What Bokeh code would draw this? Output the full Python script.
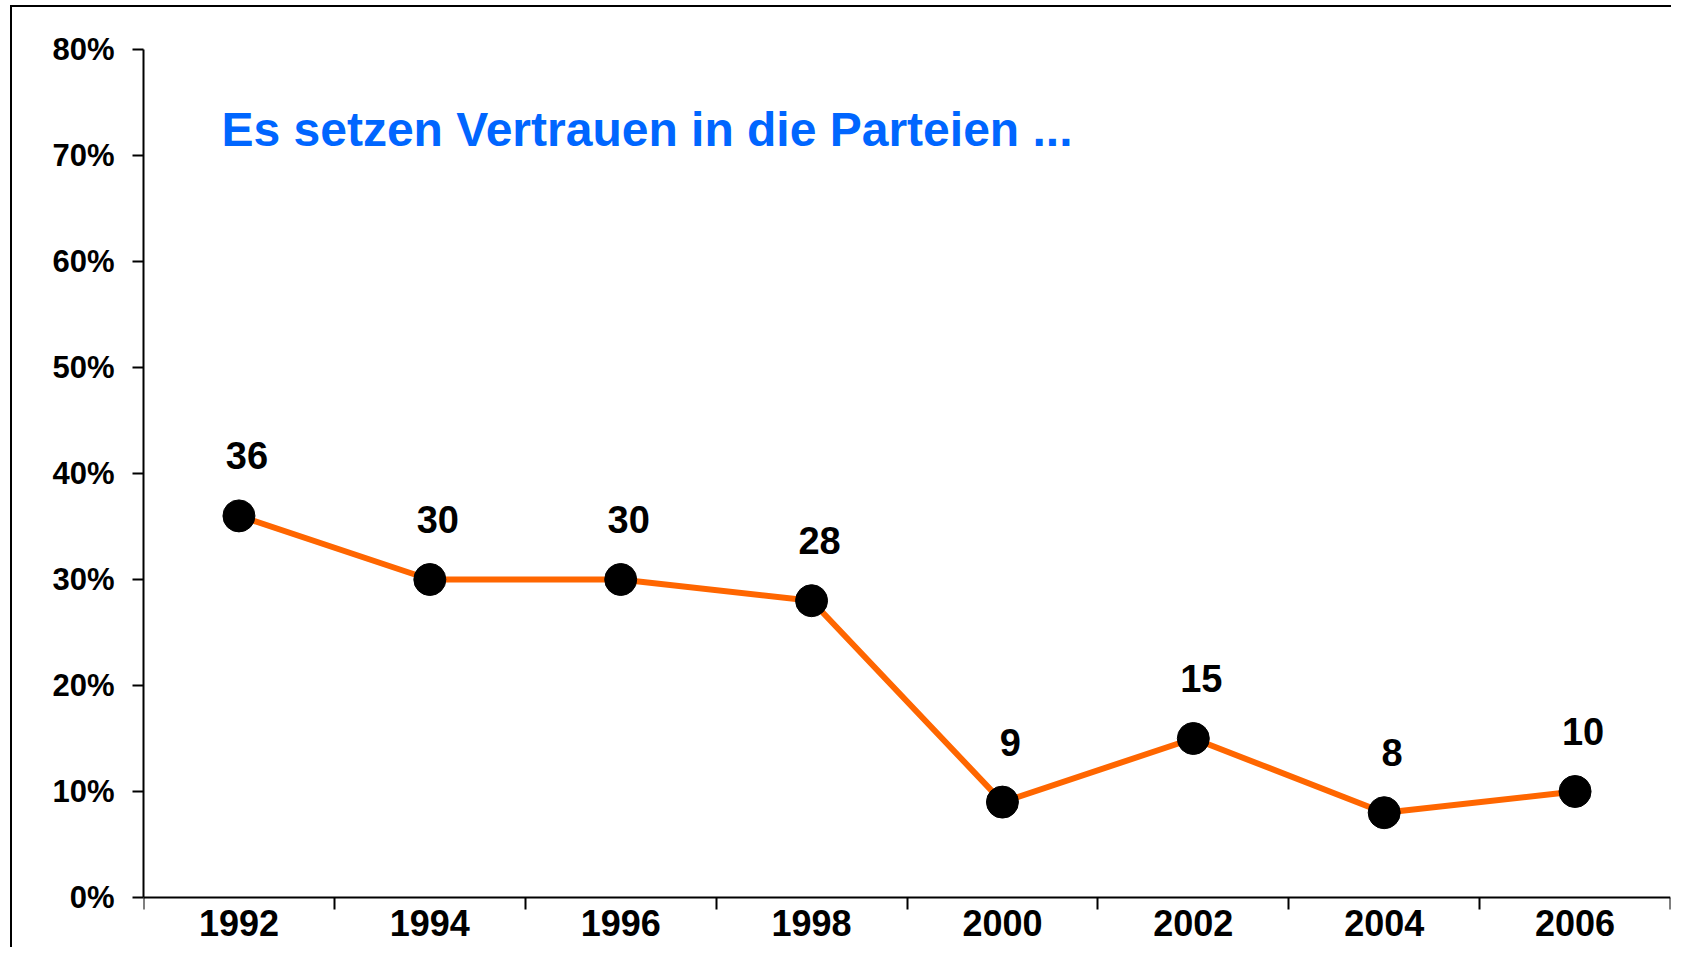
from bokeh.plotting import figure
from bokeh.models import (Range1d, FixedTicker, CustomJSTickFormatter,
                          PrintfTickFormatter, Label, ColumnDataSource)
from bokeh.embed import file_html
from bokeh.resources import INLINE
from bokeh.core.properties import value

# ---- data ----
years = ["1992", "1994", "1996", "1998", "2000", "2002", "2004", "2006"]
trust = [36, 30, 30, 28, 9, 15, 8, 10]
y_ticks = [0, 10, 20, 30, 40, 50, 60, 70, 80]
title_text = "Es setzen Vertrauen in die Parteien ..."

FONT = "Liberation Sans"

# layout constants (pixels)
W, H = 1671, 947
TOP, LEFT, RIGHT = 49, 143, 1
AXIS_Y = 897                      # pixel row of the 0% line
Y_MAX = y_ticks[-1]
ppu = (AXIS_Y - TOP) / Y_MAX      # pixels per percentage point
y_start = -(H - AXIS_Y) / ppu     # frame reaches the canvas bottom

xs = [i + 0.5 for i in range(len(years))]
src = ColumnDataSource(dict(x=xs, y=trust, lab=[str(v) for v in trust], year=years))

p = figure(width=W, height=H,
           x_range=Range1d(0, len(years)), y_range=Range1d(y_start, Y_MAX),
           output_backend="svg", toolbar_location=None,
           min_border_left=LEFT, min_border_right=RIGHT,
           min_border_top=TOP, min_border_bottom=0)
p.styles = {
    "background": ("linear-gradient(#000, #000) 10px 5px / 2px 100% no-repeat, "
                   "linear-gradient(#000, #000) 10px 5px / 100% 2px no-repeat, #fff"),
}
p.grid.visible = False
p.outline_line_color = None
p.background_fill_color = None
p.border_fill_color = None

p.line("x", "y", source=src, line_color="#FF6600", line_width=6)
p.scatter("x", "y", source=src, size=32, fill_color="black", line_color="black")
p.text("x", "y", text="lab", source=src, x_offset=8, y_offset=-60,
       text_font=value(FONT), text_font_style="bold", text_font_size="38px",
       text_align="center", text_baseline="alphabetic", text_color="black")

# x axis: ticks at category boundaries, labels at centres
xa = p.xaxis[0]
xa.fixed_location = 0
xa.ticker = FixedTicker(ticks=xs, minor_ticks=list(range(len(years) + 1)))
xa.formatter = CustomJSTickFormatter(args=dict(labels=years),
                                     code="const i = Math.floor(tick); return (i >= 0 && i < labels.length) ? labels[i] : '';")
xa.axis_line_color = "black"
xa.axis_line_width = 2
xa.major_tick_line_color = None
xa.major_tick_out = 12
xa.major_tick_in = 0
xa.minor_tick_line_color = "black"
xa.minor_tick_line_width = 2
xa.minor_tick_out = 12
xa.minor_tick_in = 0
xa.major_label_standoff = 0
xa.major_label_text_font = FONT
xa.major_label_text_font_style = "bold"
xa.major_label_text_font_size = "36px"
xa.major_label_text_color = "black"

ya = p.yaxis[0]
ya.bounds = (0, Y_MAX)
ya.ticker = FixedTicker(ticks=y_ticks)
ya.formatter = PrintfTickFormatter(format="%d%%")
ya.axis_line_color = "black"
ya.axis_line_width = 2
ya.major_tick_line_color = "black"
ya.major_tick_line_width = 2
ya.major_tick_out = 11
ya.major_tick_in = 0
ya.minor_tick_line_color = None
ya.major_label_standoff = 18
ya.major_label_text_font = FONT
ya.major_label_text_font_style = "bold"
ya.major_label_text_font_size = "31px"
ya.major_label_text_color = "black"

p.add_layout(Label(x=78, y=768 + (H - AXIS_Y), x_units="screen", y_units="screen",
                   text=title_text, text_font=FONT, text_font_style="bold",
                   text_font_size="48px", text_color="#0066FF",
                   text_baseline="alphabetic"))

open("out.html", "w").write(file_html(p, INLINE))
